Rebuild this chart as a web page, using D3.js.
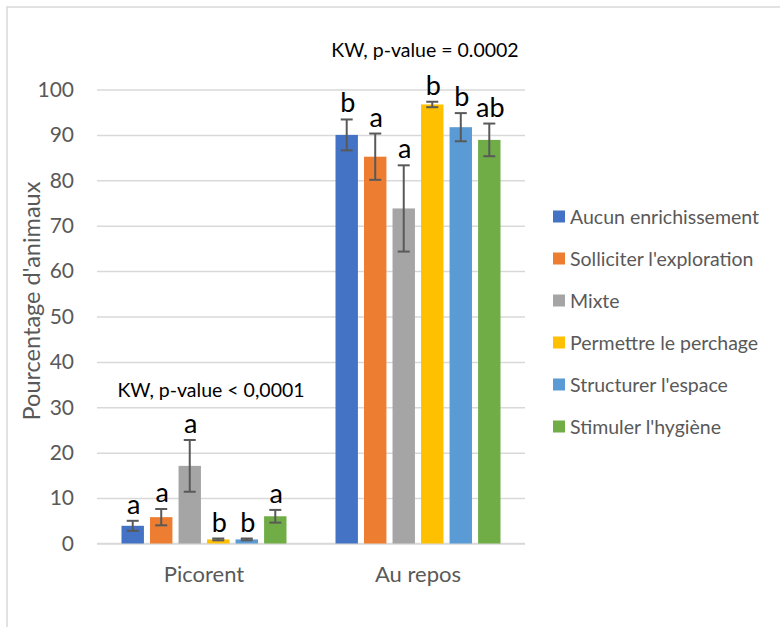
<!DOCTYPE html>
<html>
<head>
<meta charset="utf-8">
<script src="https://cdn.jsdelivr.net/npm/d3@7"></script>
<style>
  body { margin: 0; background: #fff; }
  svg { display: block; font-family: Lato, 'Open Sans', sans-serif; }
</style>
</head>
<body>
<svg id="vis" width="780" height="627"></svg>
<script>
(function () {

  'use strict';

  // Data
  var categories = ['Picorent', 'Au repos'];

  var series = [
    'Aucun enrichissement',
    'Solliciter l\'exploration',
    'Mixte',
    'Permettre le perchage',
    'Structurer l\'espace',
    'Stimuler l\'hygiène'
  ];

  var colors = ['#4472C4', '#ED7D31', '#A5A5A5', '#FFC000', '#5B9BD5', '#70AD47'];

  var picorent = [3.9, 5.8, 17.1, 0.9, 0.9, 6.0];
  var picorentErr = [1.1, 1.8, 5.7, 0.2, 0.2, 1.4];
  var picorentLetters = ['a', 'a', 'a', 'b', 'b', 'a'];

  var auRepos = [90.0, 85.2, 73.8, 96.7, 91.7, 88.9];
  var auReposErr = [3.4, 5.1, 9.5, 0.6, 3.1, 3.6];
  var auReposLetters = ['b', 'a', 'a', 'b', 'b', 'ab'];

  var kwTexts = ['KW, p-value < 0,0001', 'KW, p-value = 0.0002'];
  var kwLevels = [32.2, 107.1];

  var yTicks = [0, 10, 20, 30, 40, 50, 60, 70, 80, 90, 100];

  var textColor = '#595959';
  var gridColor = '#D9D9D9';

  var svg = d3.select('#vis');

  // Chart frame
  svg.append('rect')
      .attr('x', 7)
      .attr('y', 7)
      .attr('width', 800)
      .attr('height', 700)
      .attr('fill', 'none')
      .attr('stroke', gridColor)
      .attr('stroke-width', 1.5);

  var x = d3.scaleBand()
      .domain(categories)
      .range([97, 525]);

  var xInner = d3.scaleBand()
      .domain(series)
      .range([-82.5, 82.5])
      .paddingInner(0.214)
      .paddingOuter(0);

  var y = d3.scaleLinear()
      .domain([0, 100])
      .range([543.5, 89.5]);

  // Gridlines + y labels
  var yAxis = d3.axisLeft(y)
      .tickValues(yTicks)
      .tickSize(-428)
      .tickPadding(23);

  svg.append('g')
      .attr('transform', 'translate(97,0)')
      .call(yAxis)
      .call(function (g) {
        g.select('.domain').remove();
        g.selectAll('.tick line').attr('stroke', gridColor).attr('stroke-width', 1.5);
        g.selectAll('.tick text')
          .attr('fill', textColor)
          .attr('font-size', 21)
          .attr('font-family', 'Lato, sans-serif');
      });

  // X axis line
  svg.append('line')
      .attr('x1', 97)
      .attr('x2', 525)
      .attr('y1', y(0))
      .attr('y2', y(0))
      .attr('stroke', gridColor)
      .attr('stroke-width', 1.5);

  // Category labels
  svg.append('g')
    .selectAll('text')
      .data(categories)
      .enter()
    .append('text')
      .attr('x', function (d) { return x(d) + x.bandwidth() / 2; })
      .attr('y', 582)
      .attr('text-anchor', 'middle')
      .attr('fill', textColor)
      .attr('font-size', 22)
      .text(function (d) { return d; });

  // Axis title
  svg.append('text')
      .attr('transform', 'translate(31,301) rotate(-90)')
      .attr('text-anchor', 'middle')
      .attr('dominant-baseline', 'central')
      .attr('fill', textColor)
      .attr('font-size', 23.5)
      .text('Pourcentage d\'animaux');

  var groups = [
    { cat: 'Picorent', values: picorent, errs: picorentErr, letters: picorentLetters },
    { cat: 'Au repos', values: auRepos, errs: auReposErr, letters: auReposLetters }
  ];

  groups.forEach(function (grp) {

    var cx = x(grp.cat) + x.bandwidth() / 2;

    var rows = series.map(function (s, i) {
      return {
        name: s,
        value: grp.values[i],
        err: grp.errs[i],
        letter: grp.letters[i],
        color: colors[i],
        x: cx + xInner(s),
        mid: cx + xInner(s) + xInner.bandwidth() / 2
      };
    });

    var g = svg.append('g');

    g.selectAll('rect')
        .data(rows)
        .enter()
      .append('rect')
        .attr('x', function (d) { return d.x; })
        .attr('y', function (d) { return y(d.value); })
        .attr('width', xInner.bandwidth())
        .attr('height', function (d) { return y(0) - y(d.value); })
        .attr('fill', function (d) { return d.color; });

    var eb = g.selectAll('.err')
        .data(rows)
        .enter()
      .append('g')
        .attr('class', 'err')
        .attr('stroke', '#595959')
        .attr('stroke-width', 2);

    eb.append('line')
        .attr('x1', function (d) { return d.mid; })
        .attr('x2', function (d) { return d.mid; })
        .attr('y1', function (d) { return y(d.value + d.err); })
        .attr('y2', function (d) { return y(d.value - d.err); });

    eb.append('line')
        .attr('x1', function (d) { return d.mid - 6; })
        .attr('x2', function (d) { return d.mid + 6; })
        .attr('y1', function (d) { return y(d.value + d.err); })
        .attr('y2', function (d) { return y(d.value + d.err); });

    eb.append('line')
        .attr('x1', function (d) { return d.mid - 6; })
        .attr('x2', function (d) { return d.mid + 6; })
        .attr('y1', function (d) { return y(d.value - d.err); })
        .attr('y2', function (d) { return y(d.value - d.err); });

    g.selectAll('.letter')
        .data(rows)
        .enter()
      .append('text')
        .attr('class', 'letter')
        .attr('x', function (d) { return d.mid + 1; })
        .attr('y', function (d) { return y(d.value + d.err) - 7; })
        .attr('text-anchor', 'middle')
        .attr('fill', '#000')
        .attr('font-size', 27)
        .text(function (d) { return d.letter; });
  });

  // KW annotations
  svg.append('g')
    .selectAll('text')
      .data(categories)
      .enter()
    .append('text')
      .attr('x', function (d) { return x(d) + x.bandwidth() / 2 + 7; })
      .attr('y', function (d, i) { return y(kwLevels[i]); })
      .attr('text-anchor', 'middle')
      .attr('fill', '#000')
      .attr('font-size', 19.5)
      .text(function (d, i) { return kwTexts[i]; });

  // Legend
  var legend = svg.append('g')
      .attr('transform', 'translate(553,216.5)');

  var item = legend.selectAll('g')
      .data(series)
      .enter()
    .append('g')
      .attr('transform', function (d, i) { return 'translate(0,' + (i * 42) + ')'; });

  item.append('rect')
      .attr('x', 0)
      .attr('y', -6)
      .attr('width', 12)
      .attr('height', 12)
      .attr('fill', function (d, i) { return colors[i]; });

  item.append('text')
      .attr('x', 17)
      .attr('y', 0)
      .attr('dominant-baseline', 'central')
      .attr('fill', textColor)
      .attr('font-size', 19.5)
      .text(function (d) { return d; });
})();
</script>
</body>
</html>
